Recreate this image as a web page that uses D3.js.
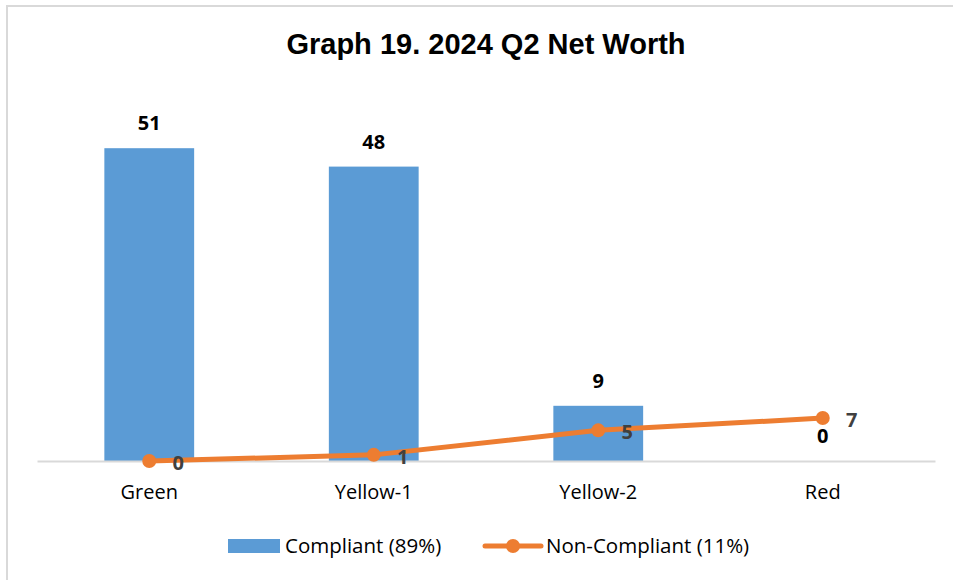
<!DOCTYPE html>
<html lang="en">
	<head>
		<title>Graph 19. 2024 Q2 Net Worth</title>
		<style>
			body { margin: 0; background: #fff; }
			.frame { fill: none; stroke: #d9d9d9; stroke-width: 2px; }
			.title { font-family: "Liberation Sans", Arial, sans-serif; font-weight: bold; font-size: 29px; fill: #000; }
			.cat { font-family: "Open Sans", Lato, sans-serif; font-size: 20px; fill: #000; }
			.bar { fill: #5b9bd5; }
			.barlabel { font-family: "Open Sans", Lato, sans-serif; font-weight: bold; font-size: 20px; fill: #000; }
			.linelabel { font-family: "Open Sans", Lato, sans-serif; font-weight: bold; font-size: 20px; fill: #404040; }
			.trend { fill: none; stroke: #ed7d31; stroke-width: 5px; stroke-linejoin: round; }
			.dot { fill: #ed7d31; }
			.legend { font-family: "Open Sans", Lato, sans-serif; font-size: 20.5px; fill: #000; }
		</style>
	</head>
	<body>
		<div id="graphic"></div>
		<script src="https://cdnjs.cloudflare.com/ajax/libs/d3/7.8.5/d3.min.js"></script>
		<script>
            var categories = ['Green', 'Yellow-1', 'Yellow-2', 'Red'];
            var compliant = [51, 48, 9, 0];
            var nonCompliant = [0, 1, 5, 7];
            var seriesNames = ['Compliant (89%)', 'Non-Compliant (11%)'];

            var width = 953,
                height = 580,
                baseY = 461;

            var svg = d3.select('#graphic')
                        .append('svg')
                        .attr('width', width)
                        .attr('height', height);

            svg.append('rect')
               .classed('frame', true)
               .attr('x', 7)
               .attr('y', 6)
               .attr('width', 960)
               .attr('height', 600);

            svg.append('text')
               .classed('title', true)
               .attr('x', 486)
               .attr('y', 54)
               .attr('text-anchor', 'middle')
               .text('Graph 19. 2024 Q2 Net Worth');

            var x = d3.scaleBand()
                      .domain(categories)
                      .range([37, 935]);

            var y = d3.scaleLinear()
                      .domain([0, 60])
                      .range([baseY, 93]);

            var barW = x.bandwidth() * 0.4;
            var cx = function(c) { return x(c) + x.bandwidth() / 2; };

            // bars
            svg.append('g')
               .selectAll('.bar')
               .data(categories)
               .enter()
                   .append('rect')
                   .classed('bar', true)
                   .attr('x', function(d) { return cx(d) - barW / 2; })
                   .attr('y', function(d, i) { return y(compliant[i]); })
                   .attr('width', barW)
                   .attr('height', function(d, i) { return baseY - y(compliant[i]); });

            // axis line + category labels
            var xAxis = svg.append('g')
               .attr('transform', 'translate(0,' + baseY + ')')
               .call(d3.axisBottom(x).tickSize(0).tickPadding(0));
            xAxis.select('.domain').attr('stroke', '#d9d9d9').attr('stroke-width', 2);
            xAxis.selectAll('.tick text')
                 .attr('class', 'cat')
                 .attr('font-family', null)
                 .attr('font-size', null)
                 .attr('fill', null)
                 .attr('dy', null)
                 .attr('y', 38);

            // bar value labels
            svg.append('g')
               .selectAll('.barlabel')
               .data(categories)
               .enter()
                   .append('text')
                   .classed('barlabel', true)
                   .attr('x', cx)
                   .attr('y', function(d, i) { return y(compliant[i]) - 18; })
                   .attr('text-anchor', 'middle')
                   .text(function(d, i) { return compliant[i]; });

            // line
            var line = d3.line()
                         .x(function(d, i) { return cx(categories[i]); })
                         .y(function(d) { return y(d); });

            svg.append('path')
               .datum(nonCompliant)
               .classed('trend', true)
               .attr('d', line);

            svg.append('g')
               .selectAll('.dot')
               .data(nonCompliant)
               .enter()
                   .append('circle')
                   .classed('dot', true)
                   .attr('cx', function(d, i) { return cx(categories[i]); })
                   .attr('cy', function(d) { return y(d); })
                   .attr('r', 7);

            svg.append('g')
               .selectAll('.linelabel')
               .data(nonCompliant)
               .enter()
                   .append('text')
                   .classed('linelabel', true)
                   .attr('x', function(d, i) { return cx(categories[i]) + 29; })
                   .attr('y', function(d) { return y(d) + 9; })
                   .attr('text-anchor', 'middle')
                   .text(function(d) { return d; });

            // legend
            var lg = svg.append('g');
            lg.append('rect')
              .classed('bar', true)
              .attr('x', 228)
              .attr('y', 539)
              .attr('width', 52)
              .attr('height', 14);
            lg.append('text')
              .classed('legend', true)
              .attr('x', 285)
              .attr('y', 553)
              .text(seriesNames[0]);
            lg.append('line')
              .attr('x1', 485).attr('x2', 541)
              .attr('y1', 546).attr('y2', 546)
              .attr('stroke', '#ed7d31')
              .attr('stroke-width', 5)
              .attr('stroke-linecap', 'round');
            lg.append('circle')
              .classed('dot', true)
              .attr('cx', 513)
              .attr('cy', 546)
              .attr('r', 7);
            lg.append('text')
              .classed('legend', true)
              .attr('x', 546)
              .attr('y', 553)
              .text(seriesNames[1]);
		</script>
	</body>
</html>
